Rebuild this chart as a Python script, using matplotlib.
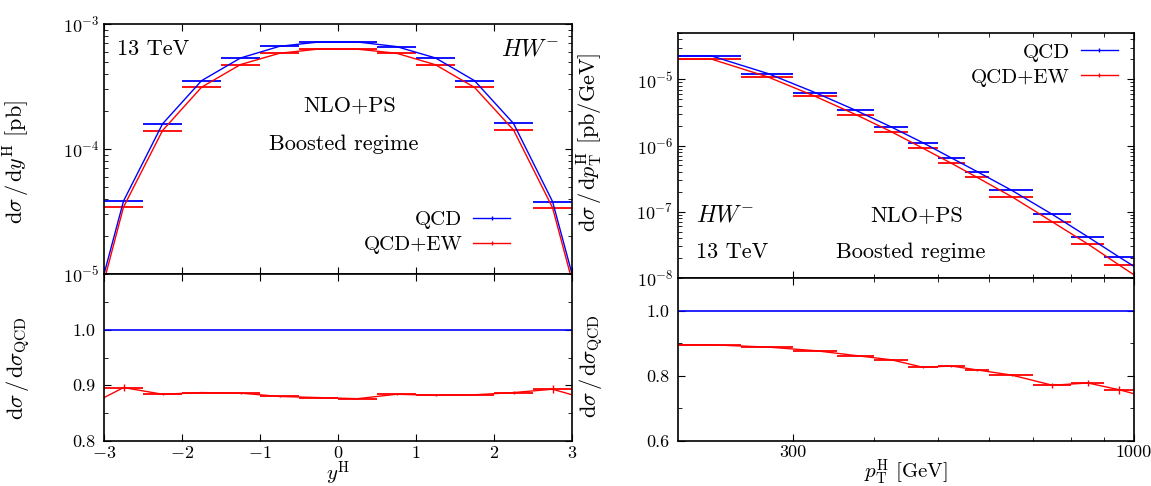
import numpy as np
import matplotlib
matplotlib.use("Agg")
import matplotlib.pyplot as plt
from matplotlib.lines import Line2D
from matplotlib.ticker import FixedLocator, NullFormatter, MultipleLocator

plt.rcParams["font.family"] = "serif"
plt.rcParams["font.serif"] = ["cmr10"]
plt.rcParams["mathtext.fontset"] = "cm"
plt.rcParams["axes.formatter.use_mathtext"] = True
plt.rcParams["axes.linewidth"] = 1.2

# rapidity distribution (left)
y_edges = [-3.0, -2.5, -2.0, -1.5, -1.0, -0.5, 0.0, 0.5, 1.0, 1.5, 2.0, 2.5, 3.0]
qcd_y = [3.84e-5, 1.59e-4, 3.52e-4, 5.35e-4, 6.63e-4, 7.18e-4,
         7.18e-4, 6.60e-4, 5.35e-4, 3.52e-4, 1.60e-4, 3.80e-5]
ratio_y = [0.896, 0.884, 0.887, 0.886, 0.880, 0.878,
           0.876, 0.884, 0.882, 0.883, 0.887, 0.893]
err_y = [0.007, 0.002, 0.001, 0.001, 0.001, 0.001,
         0.001, 0.001, 0.001, 0.001, 0.002, 0.007]
qcd_y_ends = [1.0e-5, 1.0e-5]      # curve values at the axis edges
ratio_y_ends = [0.878, 0.883]

# transverse momentum distribution (right)
pt_edges = [200, 250, 300, 350, 400, 450, 500, 550, 600, 700, 800, 900, 1000]
qcd_pt = [2.26e-5, 1.22e-5, 6.28e-6, 3.39e-6, 1.90e-6, 1.10e-6,
          6.5e-7, 4.04e-7, 2.1e-7, 9.1e-8, 4.18e-8, 2.06e-8]
ratio_pt = [0.895, 0.888, 0.877, 0.862, 0.849, 0.826,
            0.830, 0.818, 0.802, 0.771, 0.778, 0.757]
err_pt = [0.001, 0.001, 0.002, 0.002, 0.002, 0.003,
          0.003, 0.003, 0.003, 0.007, 0.009, 0.012]
qcd_pt_ends = [2.26e-5, 1.5e-8]
ratio_pt_ends = [0.895, 0.745]


def draw(ax_t, ax_b, edges, qcd, ratio, err, qcd_ends, ratio_ends):
    edges = np.array(edges, dtype=float)
    qcd = np.array(qcd)
    ratio = np.array(ratio)
    ewk = qcd * ratio
    centers = (edges[:-1] + edges[1:]) / 2
    lx = np.concatenate([[edges[0]], centers, [edges[-1]]])
    lq = np.concatenate([[qcd_ends[0]], qcd, [qcd_ends[1]]])
    lr = np.concatenate([[ratio_ends[0]], ratio, [ratio_ends[1]]])

    ax_t.hlines(qcd, edges[:-1], edges[1:], colors="blue", lw=1.3)
    ax_t.hlines(ewk, edges[:-1], edges[1:], colors="red", lw=1.3)
    ax_t.plot(lx, lq, color="blue", lw=1)
    ax_t.plot(lx, lq * lr, color="red", lw=1)

    ax_b.axhline(1.0, color="blue", lw=1.2)
    ax_b.hlines(ratio, edges[:-1], edges[1:], colors="red", lw=1.3)
    ax_b.plot(lx, lr, color="red", lw=1)
    ax_b.errorbar(centers, ratio, yerr=err, fmt="none", ecolor="red", elinewidth=1)

    for ax in (ax_t, ax_b):
        ax.tick_params(which="both", direction="in", top=True, right=True, labelsize=13)
        ax.tick_params(which="major", length=5)
        ax.tick_params(which="minor", length=3)
    ax_b.tick_params(axis="x", pad=3)
    ax_b.tick_params(axis="y", pad=6)
    ax_t.tick_params(labelbottom=False)


def legend(ax, anchor):
    h = [Line2D([], [], color="blue", marker="|", ms=3, lw=1),
         Line2D([], [], color="red", marker="|", ms=3, lw=1)]
    ax.legend(h, ["QCD", "QCD+EW"], loc="center right", bbox_to_anchor=anchor,
              frameon=False, markerfirst=False, numpoints=1, fontsize=15,
              handlelength=1.8, handletextpad=0.5, borderpad=0, borderaxespad=0,
              labelspacing=0.3)


fig = plt.figure(figsize=(11.51, 4.86), dpi=100)
ax1 = fig.add_axes([0.0904, 0.4362, 0.4066, 0.5144])
ax2 = fig.add_axes([0.0904, 0.0926, 0.4066, 0.3436])
ax3 = fig.add_axes([0.589, 0.428, 0.3962, 0.504])
ax4 = fig.add_axes([0.589, 0.0926, 0.3962, 0.3354])

# left panel
ax1.set_yscale("log")
draw(ax1, ax2, y_edges, qcd_y, ratio_y, err_y, qcd_y_ends, ratio_y_ends)
for ax in (ax1, ax2):
    ax.set_xlim(-3, 3)
    ax.xaxis.set_major_locator(MultipleLocator(1))
ax1.set_ylim(1e-5, 1e-3)
ax2.set_ylim(0.8, 1.1)
ax2.set_yticks([0.8, 0.9, 1.0])
ax2.set_yticklabels(["0.8", "0.9", "1.0"])
ax2.yaxis.set_minor_locator(MultipleLocator(0.05))
ax1.text(0.028, 0.9, "13 TeV", transform=ax1.transAxes, fontsize=16, va="center")
ax1.text(0.972, 0.9, "$HW^{-}$", transform=ax1.transAxes, fontsize=17, va="center", ha="right")
ax1.text(0.525, 0.676, "NLO+PS", transform=ax1.transAxes, fontsize=16, va="center", ha="center")
ax1.text(0.513, 0.52, "Boosted regime", transform=ax1.transAxes, fontsize=16, va="center", ha="center")
legend(ax1, (0.868, 0.166))
ax1.set_ylabel(r"$\mathrm{d}\sigma\,/\,\mathrm{d}y^{\mathrm{H}}$ [pb]", fontsize=16)
ax1.yaxis.set_label_coords(-0.155, 0.45)
ax2.set_ylabel(r"$\mathrm{d}\sigma\,/\,\mathrm{d}\sigma_{\mathrm{QCD}}$", fontsize=16)
ax2.yaxis.set_label_coords(-0.155, 0.44)
ax2.set_xlabel(r"$y^{\mathrm{H}}$", fontsize=15, labelpad=-1)

# right panel
for ax in (ax3, ax4):
    ax.set_xscale("log")
draw(ax3, ax4, pt_edges, qcd_pt, ratio_pt, err_pt, qcd_pt_ends, ratio_pt_ends)
ax3.set_yscale("log")
for ax in (ax3, ax4):
    ax.set_xlim(200, 1000)
    ax.xaxis.set_major_locator(FixedLocator([300, 1000]))
    ax.xaxis.set_minor_locator(FixedLocator([400, 500, 600, 700, 800, 900]))
    ax.xaxis.set_minor_formatter(NullFormatter())
ax4.set_xticklabels(["300", "1000"])
ax3.set_ylim(1e-8, 5e-5)
ax4.set_ylim(0.6, 1.1)
ax4.set_yticks([0.6, 0.8, 1.0])
ax4.set_yticklabels(["0.6", "0.8", "1.0"])
ax4.yaxis.set_minor_locator(MultipleLocator(0.1))
ax3.text(0.04, 0.257, "$HW^{-}$", transform=ax3.transAxes, fontsize=17, va="center")
ax3.text(0.04, 0.106, "13 TeV", transform=ax3.transAxes, fontsize=16, va="center")
ax3.text(0.524, 0.257, "NLO+PS", transform=ax3.transAxes, fontsize=16, va="center", ha="center")
ax3.text(0.511, 0.106, "Boosted regime", transform=ax3.transAxes, fontsize=16, va="center", ha="center")
legend(ax3, (0.965, 0.87))
ax3.set_ylabel(r"$\mathrm{d}\sigma\,/\,\mathrm{d}p_{\mathrm{T}}^{\mathrm{H}}$ [pb/GeV]", fontsize=16)
ax3.yaxis.set_label_coords(-0.16, 0.555)
ax4.set_ylabel(r"$\mathrm{d}\sigma\,/\,\mathrm{d}\sigma_{\mathrm{QCD}}$", fontsize=16)
ax4.yaxis.set_label_coords(-0.16, 0.46)
ax4.set_xlabel(r"$p_{\mathrm{T}}^{\mathrm{H}}$ [GeV]", fontsize=15, labelpad=-2)

fig.savefig("out.png", dpi=100)
